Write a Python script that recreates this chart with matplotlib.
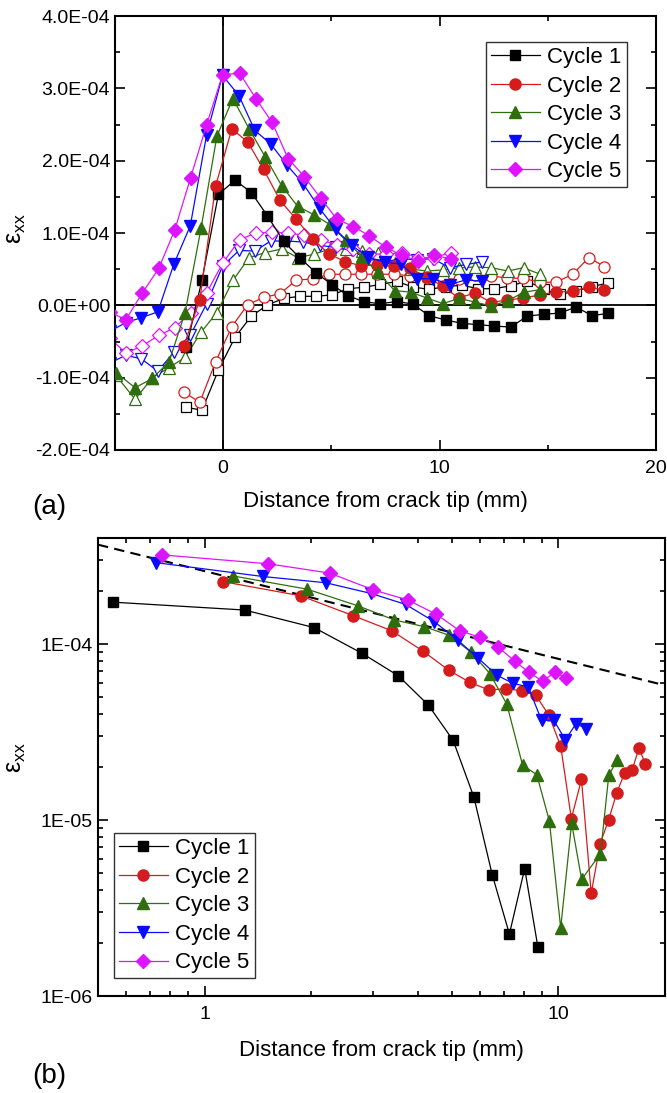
import matplotlib
matplotlib.use('Agg')
import matplotlib.pyplot as plt
from matplotlib.ticker import MultipleLocator, FuncFormatter, LogLocator, NullFormatter

plt.rcParams['font.family'] = ['Liberation Sans', 'DejaVu Sans']
plt.rcParams['mathtext.fontset'] = 'custom'
plt.rcParams['mathtext.rm'] = 'Liberation Sans'

SCALE = 1e-4  # strain values below are in units of 1E-04

# Cycle 1 (black squares)
x1 = [-1.7, -0.98, -0.22, 0.55, 1.3, 2.04, 2.79, 3.53, 4.29, 5.04, 5.77, 6.5, 7.27, 8.03,
      8.75, 9.52, 10.28, 11.05, 11.79, 12.51, 13.29, 14.06, 14.83, 15.57, 16.31, 17.05, 17.79]
y1_fill = [-0.58, 0.35, 1.535, 1.73, 1.56, 1.24, 0.885, 0.66, 0.45, 0.284, 0.135, 0.049, 0.0225, 0.053,
           0.019, -0.143, -0.203, -0.249, -0.267, -0.286, -0.30, -0.148, -0.124, -0.106, -0.023, -0.143, -0.11]
y1_open = [-1.41, -1.45, -0.895, -0.44, -0.15, 0.005, 0.095, 0.125, 0.125, 0.145, 0.23, 0.25, 0.29, 0.33,
           0.255, 0.22, 0.26, 0.277, 0.23, 0.23, 0.27, 0.336, 0.22, 0.15, 0.2, 0.26, 0.31]

# Cycle 2 (red circles)
x2 = [-1.82, -1.08, -0.35, 0.40, 1.13, 1.87, 2.63, 3.38, 4.14, 4.9, 5.63, 6.38, 7.11, 7.88,
      8.63, 9.4, 10.15, 10.88, 11.62, 12.38, 13.12, 13.86, 14.62, 15.38, 16.15, 16.9, 17.62]
y2_fill = [-0.56, 0.08, 1.65, 2.44, 2.26, 1.88, 1.45, 1.19, 0.913, 0.71, 0.605, 0.547, 0.559, 0.542,
           0.512, 0.394, 0.263, 0.102, 0.17, 0.0384, 0.0733, 0.10, 0.143, 0.185, 0.192, 0.257, 0.207]
y2_open = [-1.2, -1.34, -0.78, -0.295, 0.01, 0.11, 0.16, 0.35, 0.365, 0.43, 0.43, 0.43, 0.43, 0.43,
           0.41, 0.38, 0.37, 0.36, 0.42, 0.405, 0.38, 0.373, 0.32, 0.32, 0.43, 0.66, 0.535]

# Cycle 3 (green triangles)
x3 = [-4.95, -4.07, -3.27, -2.5, -1.76, -1.02, -0.29, 0.45, 1.2, 1.95, 2.71, 3.44, 4.18, 4.92,
      5.66, 6.4, 7.15, 7.92, 8.69, 9.43, 10.15, 10.9, 11.63, 12.4, 13.15, 13.88, 14.65]
y3_fill = [-0.93, -1.14, -1.01, -0.78, -0.10, 1.07, 2.34, 2.86, 2.44, 2.05, 1.65, 1.37, 1.255, 1.12,
           0.90, 0.68, 0.455, 0.205, 0.181, 0.0986, 0.0244, 0.096, 0.046, -0.01, 0.0643, 0.18, 0.218]
y3_open = [-0.97, -1.3, -1.0, -0.86, -0.72, -0.37, -0.10, 0.345, 0.66, 0.73, 0.78, 0.66, 0.705, 0.78,
           0.78, 0.75, 0.72, 0.58, 0.50, 0.475, 0.49, 0.52, 0.53, 0.52, 0.475, 0.52, 0.43]

# Cycle 4 (blue down-triangles)
x4 = [-5.25, -4.5, -3.78, -3.02, -2.28, -1.52, -0.77, -0.03, 0.73, 1.46, 2.2, 2.95, 3.7, 4.46,
      5.2, 5.94, 6.69, 7.46, 8.22, 8.96, 9.7, 10.46, 11.22, 11.97]
y4_fill = [-0.36, -0.24, -0.17, -0.09, 0.57, 1.10, 2.35, 3.18, 2.9, 2.42, 2.23, 1.94, 1.68, 1.34,
           1.05, 0.83, 0.666, 0.597, 0.571, 0.369, 0.369, 0.286, 0.353, 0.331]
y4_open = [-0.8, -0.69, -0.74, -0.91, -0.65, -0.415, 0.02, 0.54, 0.76, 0.75, 0.89, 0.89, 0.875, 0.83,
           0.80, 0.76, 0.64, 0.60, 0.645, 0.63, 0.645, 0.52, 0.565, 0.60]

# Cycle 5 (magenta diamonds)
x5 = [-5.25, -4.5, -3.74, -2.98, -2.24, -1.51, -0.76, -0.03, 0.76, 1.51, 2.26, 3.0, 3.75, 4.51,
      5.26, 6.02, 6.76, 7.53, 8.26, 9.02, 9.76, 10.51]
y5_fill = [-0.09, -0.2, 0.17, 0.51, 1.04, 1.76, 2.5, 3.19, 3.21, 2.86, 2.53, 2.03, 1.78, 1.48,
           1.19, 1.09, 0.96, 0.80, 0.69, 0.615, 0.69, 0.645]
y5_open = [-0.45, -0.66, -0.56, -0.415, -0.31, -0.10, 0.175, 0.58, 0.91, 1.0, 1.01, 1.0, 0.97, 0.90,
           0.84, 0.785, 0.715, 0.705, 0.73, 0.66, 0.66, 0.73]

labels = ['Cycle 1', 'Cycle 2', 'Cycle 3', 'Cycle 4', 'Cycle 5']
colors = ['#000000', '#d41c1c', '#2e6e0c', '#0a0aff', '#dd15ff']
markers = ['s', 'o', '^', 'v', 'D']
msizes = [7, 8, 8.5, 8.5, 7]
xs = [x1, x2, x3, x4, x5]
fills = [y1_fill, y2_fill, y3_fill, y4_fill, y5_fill]
opens = [y1_open, y2_open, y3_open, y4_open, y5_open]

# dashed reference line (slope -1/2 in log-log), end points
ref_x = [0.5, 20]
ref_y = [3.67e-4, 5.83e-5]

fig = plt.figure(figsize=(6.67, 10.93), dpi=100)
ax1 = fig.add_axes([0.1724, 0.5883, 0.811, 0.397])
ax2 = fig.add_axes([0.1469, 0.0887, 0.850, 0.419])

leg_kw = dict(borderaxespad=0, fontsize=16, labelspacing=0.34, handlelength=2.2,
              handletextpad=0.35, fancybox=False, edgecolor='#333333', framealpha=1,
              numpoints=1, borderpad=0.22)

# ---- (a) linear plot ----
ax1.axhline(0, color='black', lw=1.3, zorder=1)
ax1.axvline(0, color='black', lw=1.3, zorder=1)
for i in range(5):
    ax1.plot(xs[i], [v * SCALE for v in opens[i]], color=colors[i], marker=markers[i],
             ms=msizes[i], mfc='white', mec=colors[i], mew=0.9, lw=0.9, zorder=2)
for i in range(5):
    ax1.plot(xs[i], [v * SCALE for v in fills[i]], color=colors[i], marker=markers[i],
             ms=msizes[i], mfc=colors[i], mec=colors[i], lw=0.9, label=labels[i], zorder=3)

ax1.set_xlim(-5, 20)
ax1.set_ylim(-2e-4, 4e-4)
ax1.xaxis.set_major_locator(MultipleLocator(10))
ax1.xaxis.set_minor_locator(MultipleLocator(5))
ax1.yaxis.set_major_locator(MultipleLocator(1e-4))
ax1.yaxis.set_minor_locator(MultipleLocator(0.5e-4))
ax1.yaxis.set_major_formatter(FuncFormatter(lambda v, p: '%.1E' % v))
ax1.set_xlabel('Distance from crack tip (mm)', fontsize=16)
ax1.set_ylabel('ε$_\\mathregular{xx}$', fontsize=18)
ax1.xaxis.set_label_coords(0.5, -0.095)
ax1.yaxis.set_label_coords(-0.16, 0.51)
ax1.legend(loc='upper right', bbox_to_anchor=(0.946, 0.94), **leg_kw)

# ---- (b) log-log plot ----
ax2.plot(ref_x, ref_y, color='black', ls=(0, (5, 3)), lw=1.5, zorder=2)
for i in range(5):
    pts = [(x, v * SCALE) for x, v in zip(xs[i], fills[i]) if x > 0.5 and v > 0]
    ax2.plot([p[0] for p in pts], [p[1] for p in pts], color=colors[i], marker=markers[i],
             ms=msizes[i], mfc=colors[i], mec=colors[i], lw=0.9, label=labels[i], zorder=3)

ax2.set_xscale('log')
ax2.set_yscale('log')
ax2.set_xlim(0.5, 20)
ax2.set_ylim(1e-6, 4e-4)
ax2.xaxis.set_major_locator(LogLocator(base=10))
ax2.xaxis.set_minor_locator(LogLocator(base=10, subs=range(2, 10)))
ax2.xaxis.set_major_formatter(FuncFormatter(lambda v, p: '%g' % v))
ax2.xaxis.set_minor_formatter(NullFormatter())
ax2.yaxis.set_major_locator(LogLocator(base=10))
ax2.yaxis.set_minor_locator(LogLocator(base=10, subs=range(2, 10)))
ax2.yaxis.set_major_formatter(FuncFormatter(lambda v, p: '%.0E' % v))
ax2.yaxis.set_minor_formatter(NullFormatter())
ax2.set_xlabel('Distance from crack tip (mm)', fontsize=16)
ax2.set_ylabel('ε$_\\mathregular{xx}$', fontsize=18)
ax2.xaxis.set_label_coords(0.5, -0.095)
ax2.yaxis.set_label_coords(-0.123, 0.52)
ax2.legend(loc='lower left', bbox_to_anchor=(0.028, 0.039), **leg_kw)

for ax in (ax1, ax2):
    for s in ax.spines.values():
        s.set_linewidth(1.5)
    ax.tick_params(which='both', direction='in', top=True, right=True, width=1.2, labelsize=14)
    ax.tick_params(which='major', length=7)
    ax.tick_params(which='minor', length=3.5)
    ax.tick_params(axis='x', pad=7)

fig.text(0.048, 0.536, '(a)', fontsize=20, ha='left', va='center')
fig.text(0.048, 0.0156, '(b)', fontsize=20, ha='left', va='center')

fig.savefig('out.png', dpi=100)
